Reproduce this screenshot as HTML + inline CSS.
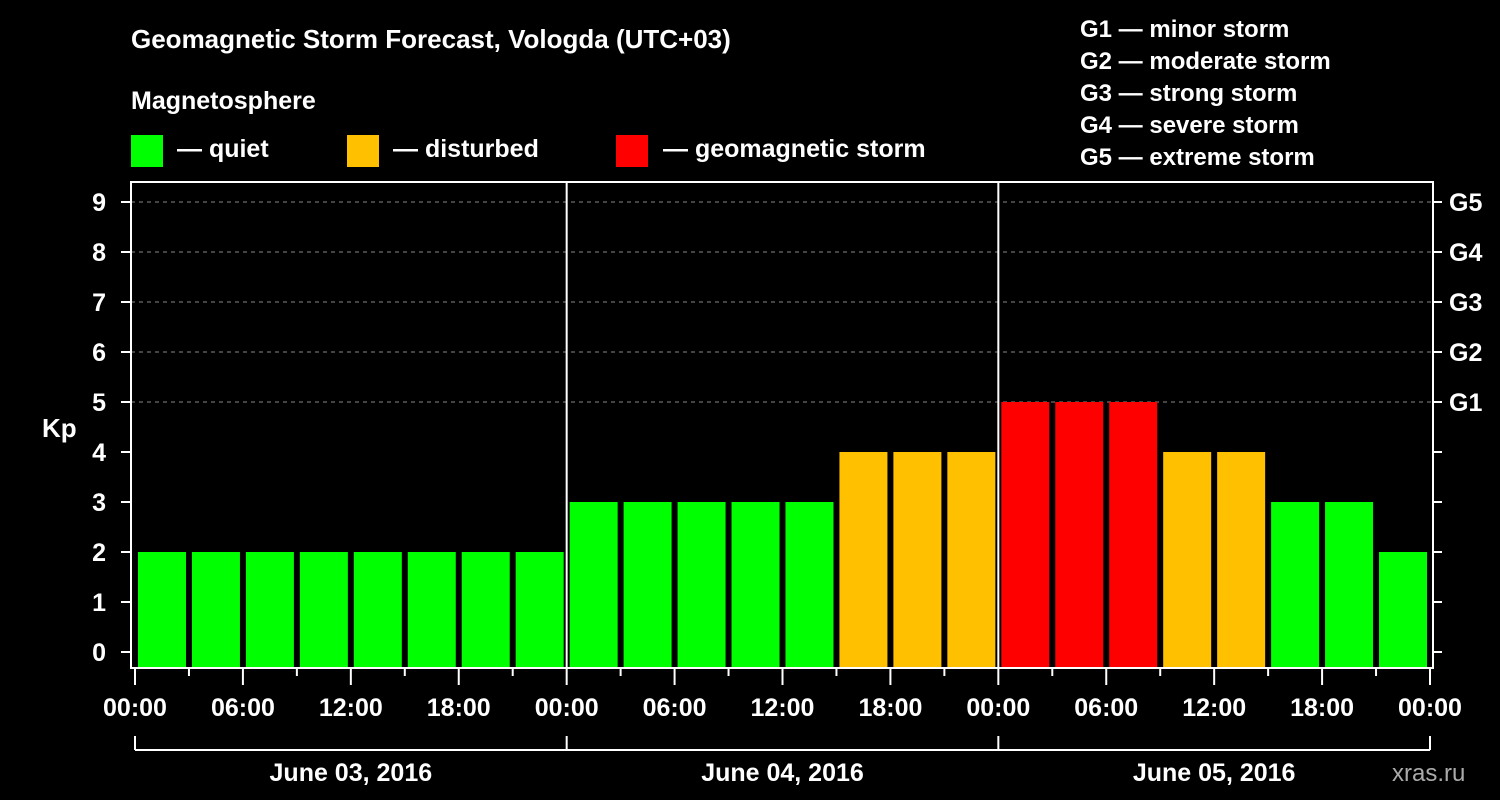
<!DOCTYPE html>
<html><head><meta charset="utf-8"><style>
html,body{margin:0;padding:0;background:#000;}
svg{display:block;font-family:"Liberation Sans",Arial,sans-serif;font-weight:bold;}
</style></head><body>
<svg id="chart" width="1500" height="800" viewBox="0 0 1500 800" xmlns="http://www.w3.org/2000/svg">
<rect width="1500" height="800" fill="#000"/>
<text x="131" y="48" fill="#fff" font-size="26">Geomagnetic Storm Forecast, Vologda (UTC+03)</text>
<text x="131" y="109" fill="#fff" font-size="25">Magnetosphere</text>
<g>
<rect x="131" y="135" width="32" height="32" fill="#00ff00"/>
<text x="177" y="157" fill="#fff" font-size="25">— quiet</text>
<rect x="347" y="135" width="32" height="32" fill="#ffc000"/>
<text x="393" y="157" fill="#fff" font-size="25">— disturbed</text>
<rect x="616" y="135" width="32" height="32" fill="#ff0000"/>
<text x="663" y="157" fill="#fff" font-size="25">— geomagnetic storm</text>
</g>
<g fill="#fff" font-size="24">
<text x="1080" y="37">G1 — minor storm</text>
<text x="1080" y="69">G2 — moderate storm</text>
<text x="1080" y="101">G3 — strong storm</text>
<text x="1080" y="133">G4 — severe storm</text>
<text x="1080" y="165">G5 — extreme storm</text>
</g>
<text x="42" y="437" fill="#fff" font-size="26">Kp</text>
<text x="1392" y="781" fill="#aaa" font-size="24" font-weight="normal">xras.ru</text>
<g id="grid"></g><g id="bars"></g><g id="axes"></g>
</svg>
<script>
const kpValues=[2,2,2,2,2,2,2,2,3,3,3,3,3,4,4,4,5,5,5,4,4,3,3,2];
const yTicks=[0,1,2,3,4,5,6,7,8,9];
const gLabels=["G1","G2","G3","G4","G5"];
const gLevels=[5,6,7,8,9];
const xTickLabels=["00:00","06:00","12:00","18:00","00:00","06:00","12:00","18:00","00:00","06:00","12:00","18:00","00:00"];
const dayLabels=["June 03, 2016","June 04, 2016","June 05, 2016"];
const NS="http://www.w3.org/2000/svg";
const X0=135,X1=1430,HOURS=72;
const xs=h=>X0+h*(X1-X0)/HOURS;
const ys=v=>652-50*v;
function mk(tag,attrs,parent,text){const e=document.createElementNS(NS,tag);for(const k in attrs)e.setAttribute(k,attrs[k]);if(text!==undefined)e.textContent=text;parent.appendChild(e);return e;}
const grid=document.getElementById('grid'),bars=document.getElementById('bars'),axes=document.getElementById('axes');
gLevels.forEach(v=>{const l=mk('line',{x1:131,x2:1433,y1:ys(v),y2:ys(v),stroke:'#888','stroke-width':1,'stroke-dasharray':'4,4'},grid);

});
kpValues.forEach((v,i)=>{const c=xs(i*3+1.5);const col=v>=5?'#ff0000':(v>=4?'#ffc000':'#00ff00');
const r=mk('rect',{x:c-24,y:ys(v),width:48,height:668-ys(v),fill:col},bars);

});
// frame
const fr=mk('path',{d:'M131,668 L131,182 L1433,182 L1433,668 Z',fill:'none',stroke:'#fff','stroke-width':2},axes);


[1,2].forEach(d=>{const l=mk('line',{x1:xs(d*24),x2:xs(d*24),y1:182,y2:668,stroke:'#fff','stroke-width':2},axes);

});
yTicks.forEach(v=>{mk('line',{x1:121,x2:131,y1:ys(v),y2:ys(v),stroke:'#fff','stroke-width':2},axes);
mk('line',{x1:1433,x2:1442,y1:ys(v),y2:ys(v),stroke:'#fff','stroke-width':2},axes);
const t=mk('text',{x:106,y:ys(v)+9,fill:'#fff','font-size':25,'text-anchor':'end'},axes,String(v));

});
gLabels.forEach((g,i)=>{const t=mk('text',{x:1449,y:ys(gLevels[i])+9,fill:'#fff','font-size':25},axes,g);

});
for(let h=0;h<=HOURS;h+=3){const major=h%6===0;mk('line',{x1:xs(h),x2:xs(h),y1:668,y2:major?685:676,stroke:'#fff','stroke-width':2},axes);}
xTickLabels.forEach((s,i)=>{const t=mk('text',{x:xs(i*6),y:716,fill:'#fff','font-size':25,'text-anchor':'middle'},axes,s);

});
mk('line',{x1:X0,x2:X1,y1:750,y2:750,stroke:'#fff','stroke-width':2},axes);
for(let d=0;d<=3;d++)mk('line',{x1:xs(d*24),x2:xs(d*24),y1:736,y2:750,stroke:'#fff','stroke-width':2},axes);
dayLabels.forEach((s,i)=>{const t=mk('text',{x:xs(i*24+12),y:781,fill:'#fff','font-size':25,'text-anchor':'middle'},axes,s);

});
</script>
</body></html>
